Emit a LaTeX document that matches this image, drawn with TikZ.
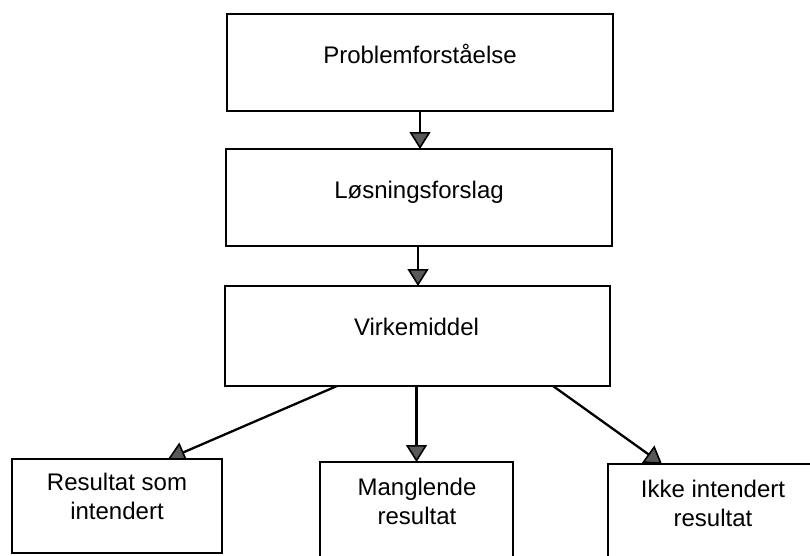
\documentclass[tikz,border=0pt]{standalone}
\usepackage{fontspec}
\setmainfont{Liberation Sans}
\usetikzlibrary{arrows.meta,backgrounds}

\tikzset{
  stepbox/.style={draw=black, line width=2.8pt, fill=white, rectangle,
    inner sep=0pt, outer sep=0pt},
  label text/.style={font=\fontsize{24}{29}\selectfont, inner sep=0pt,
    outer sep=0pt, align=center, text=black},
  flow/.style={draw=black, line width=2.3pt,
    -{Triangle[width=21pt,length=17pt,fill=black!65,line width=1.6pt]}},
}

\begin{document}
\begin{tikzpicture}[x=1pt,y=-1pt]
  \useasboundingbox (0,0) rectangle (810,555);
  \clip (0,0) rectangle (810,555);

  % main chain of boxes
  \node[stepbox, minimum width=386pt, minimum height=97pt]  (b1) at (420,62.5)  {};
  \node[stepbox, minimum width=386pt, minimum height=97pt]  (b2) at (419,197.5) {};
  \node[stepbox, minimum width=385pt, minimum height=100pt] (b3) at (417.5,336) {};

  % outcome boxes
  \node[stepbox, minimum width=210pt, minimum height=94pt]  (r1) at (117,506)   {};
  \node[stepbox, minimum width=193pt, minimum height=118pt] (r2) at (416.5,521) {};
  \node[stepbox, minimum width=222pt, minimum height=116pt] (r3) at (719,522)   {};

  % box texts
  \node[label text, anchor=base] (t1) at (420,63)   {Problemforståelse};
  \node[label text, anchor=base] (t2) at (419,198)  {Løsningsforslag};
  \node[label text, anchor=base] (t3) at (416.5,335) {Virkemiddel};
  \node[label text, anchor=north] (t4) at (117,473)  {Resultat som\\intendert};
  \node[label text, anchor=north] (t5) at (417,478)  {Manglende\\resultat};
  \node[label text, anchor=north] (t6) at (713,480)  {Ikke intendert\\resultat};

  % connectors sit behind the boxes
  \begin{pgfonlayer}{background}
    \draw[flow] (b1.south) -- (b1.south |- b2.north);
    \draw[flow] ([xshift=-1pt]b2.south) -- ([xshift=-1pt]b2.south |- b3.north);
    \draw[flow] ([xshift=-80.5pt]b3.south) -- ([xshift=51pt]r1.north);
    \draw[flow] (b3.south -| r2.north) -- (r2.north);
    \draw[flow] ([xshift=135.5pt]b3.south) -- ([xshift=-57pt]r3.north);
  \end{pgfonlayer}
\end{tikzpicture}
\end{document}
